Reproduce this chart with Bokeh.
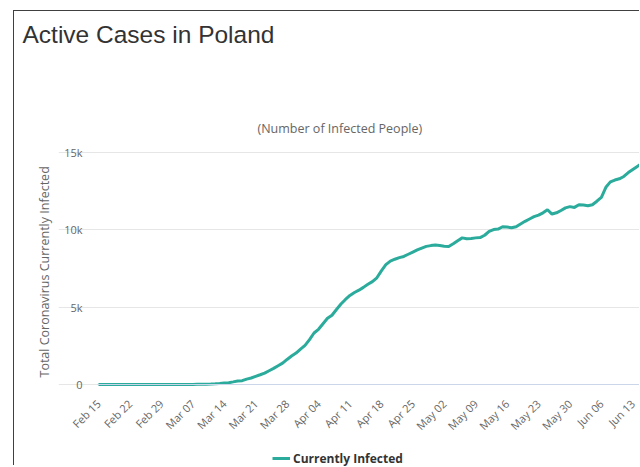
from math import pi

from bokeh.plotting import figure
from bokeh.models import (CDSView, ColumnDataSource, FixedTicker, IndexFilter,
                          Legend, LegendItem, Range1d, Title)
from bokeh.embed import file_html
from bokeh.resources import INLINE

# ---------------- data ----------------
TITLE = "Active Cases in Poland"
SUBTITLE = "(Number of Infected People)"
Y_TITLE = "Total Coronavirus Currently Infected"
SERIES_NAME = "Currently Infected"

# one x-axis label every 7 days, starting Feb 15 (day 0)
TICK_LABELS = ["Feb 15", "Feb 22", "Feb 29", "Mar 07", "Mar 14", "Mar 21",
               "Mar 28", "Apr 04", "Apr 11", "Apr 18", "Apr 25", "May 02",
               "May 09", "May 16", "May 23", "May 30", "Jun 06", "Jun 13"]
TICK_STEP = 7

Y_TICKS = [0, 5000, 10000, 15000]
Y_TICK_LABELS = ["0", "5k", "10k", "15k"]

# daily active cases, Feb 15 .. Jun 15
ACTIVE = [
    0, 0, 0, 0, 0, 0, 0, 0, 0, 0, 0, 0, 0, 0, 0, 0, 0, 0,
    1, 1, 5, 5, 11, 16, 22, 31, 49, 68,
    103, 119, 170, 230, 245, 350, 420,
    530, 630, 740, 890, 1040, 1210, 1380,
    1620, 1840, 2030, 2290, 2530, 2900, 3330,
    3570, 3930, 4280, 4480, 4850, 5200, 5500,
    5760, 5950, 6100, 6280, 6480, 6650, 6900,
    7350, 7750, 7980, 8100, 8200, 8280, 8420,
    8560, 8700, 8820, 8930, 8980, 9020, 8980,
    8940, 8920, 9100, 9300, 9480, 9420, 9440,
    9480, 9500, 9650, 9900, 10020, 10050, 10200,
    10180, 10130, 10200, 10380, 10550, 10700, 10850,
    10950, 11100, 11300, 11020, 11100, 11250, 11420,
    11500, 11450, 11620, 11600, 11560, 11620, 11850,
    12100, 12750, 13100, 13220, 13300, 13450, 13700,
    13900, 14100, 14300,
]
DAYS = list(range(len(ACTIVE)))

# ---------------- layout (page pixels) ----------------
FIG_X, FIG_Y = 14, 11          # canvas origin on the page
W, H = 626, 455
FRAME_L, FRAME_R = 58, 640      # wide frame so rotated labels are not clipped
PLOT_L = 97                     # where the visible plot area begins
DAY0_X = 98                     # pixel of day 0
PX_PER_DAY = 4.49
FRAME_T = 140                   # a bit above the 15k line so its label fits
TOP_Y = 152                     # 15k grid line
ZERO_Y = 384                    # 0 grid line / x axis
FRAME_B = FIG_Y + H
X_START = (FRAME_L - DAY0_X) / PX_PER_DAY
X_END = (FRAME_R - DAY0_X) / PX_PER_DAY
PLOT_X0 = (PLOT_L - DAY0_X) / PX_PER_DAY
Y_MAX = 15000
Y_PER_PX = Y_MAX / (ZERO_Y - TOP_Y)
Y_START = -(FRAME_B - ZERO_Y) * Y_PER_PX
Y_END = Y_MAX + (TOP_Y - FRAME_T) * Y_PER_PX

TEAL = "#2bab9b"
FONT = "Open Sans"

p = figure(width=W, height=H,
           x_range=Range1d(X_START, X_END), y_range=Range1d(Y_START, Y_END),
           output_backend="svg", toolbar_location=None,
           min_border_left=FRAME_L - FIG_X, min_border_right=0,
           min_border_top=FRAME_T - FIG_Y, min_border_bottom=0,
           background_fill_color="white", border_fill_color="white",
           outline_line_color=None)
p.styles = {"border-left": "1px solid #404040", "border-top": "1px solid #404040",
            "margin-left": "13px", "margin-top": "10px"}

# grid, limited to the visible plot area
p.xgrid.grid_line_color = None
p.ygrid.grid_line_color = "#e6e6e6"
p.ygrid.bounds = (PLOT_X0, X_END)

# y axis, pinned at the plot-area edge
p.yaxis.fixed_location = PLOT_X0
p.yaxis.ticker = FixedTicker(ticks=Y_TICKS)
p.yaxis.major_label_overrides = dict(zip(Y_TICKS, Y_TICK_LABELS))
p.yaxis.axis_line_color = None
p.yaxis.major_tick_line_color = None
p.yaxis.minor_tick_line_color = None
p.yaxis.major_tick_out = 0
p.yaxis.major_tick_in = 0
p.yaxis.major_label_standoff = 15
p.yaxis.major_label_text_font = FONT
p.yaxis.major_label_text_font_size = "11px"
p.yaxis.major_label_text_color = "#666666"
p.yaxis.axis_label = None

# x axis drawn at y = 0 inside the frame
x_ticks = [i * TICK_STEP for i in range(len(TICK_LABELS))]
p.xaxis.fixed_location = 0
p.xaxis.bounds = (PLOT_X0, X_END)
p.xaxis.ticker = FixedTicker(ticks=x_ticks)
p.xaxis.major_label_overrides = dict(zip(x_ticks, TICK_LABELS))
p.xaxis.major_label_orientation = pi / 4
p.xaxis.axis_line_color = "#ccd6eb"
p.xaxis.major_tick_line_color = None
p.xaxis.minor_tick_line_color = None
p.xaxis.major_tick_out = 0
p.xaxis.major_tick_in = 0
p.xaxis.major_label_standoff = 17
p.xaxis.major_label_text_font = FONT
p.xaxis.major_label_text_font_size = "11px"
p.xaxis.major_label_text_color = "#666666"

# series
source = ColumnDataSource(data=dict(day=DAYS, active=ACTIVE))
r_line = p.line("day", "active", source=source, line_color=TEAL, line_width=3)
# point markers are only shown in the legend symbol (none on the line)
r_mark = p.scatter("day", "active", source=source,
                   view=CDSView(filter=IndexFilter(indices=[])),
                   size=8, marker="circle", fill_color=TEAL, line_color=TEAL)

legend = Legend(items=[LegendItem(label=SERIES_NAME, renderers=[r_line, r_mark])],
                location=(272 - FRAME_L, -3),
                orientation="horizontal", padding=0, margin=0, spacing=0,
                glyph_width=18, glyph_height=22, label_height=14,
                label_standoff=3, label_text_font=FONT,
                label_text_font_size="12px", label_text_font_style="bold",
                label_text_color="#333333", background_fill_alpha=0,
                border_line_color=None)
p.add_layout(legend)

# y title in the left panel
y_title = Title(text=Y_TITLE, align="left", offset=FRAME_B - 377,
                vertical_align="bottom", standoff=11,
                text_font=FONT, text_font_size="12.5px",
                text_font_style="normal", text_color="#666666")
p.add_layout(y_title, "left")

# titles: stacked in the top panel (nearest the frame first)
p.title.text = ""
subtitle = Title(text=SUBTITLE, align="left", offset=257 - FRAME_L,
                 vertical_align="top", standoff=4,
                 text_font=FONT, text_font_size="12.5px",
                 text_font_style="normal", text_color="#666666")
spacer = Title(text=" ", align="left", offset=0, vertical_align="top",
               standoff=47, text_font=FONT, text_font_size="10px",
               text_font_style="normal", text_color="#ffffff")
main_title = Title(text=TITLE, align="left", offset=22 - FRAME_L,
                   vertical_align="top", standoff=10,
                   text_font="Liberation Sans", text_font_size="24.5px",
                   text_font_style="normal", text_color="#333333")
p.add_layout(subtitle, "above")
p.add_layout(spacer, "above")
p.add_layout(main_title, "above")

open("out.html", "w").write(file_html(p, INLINE))
